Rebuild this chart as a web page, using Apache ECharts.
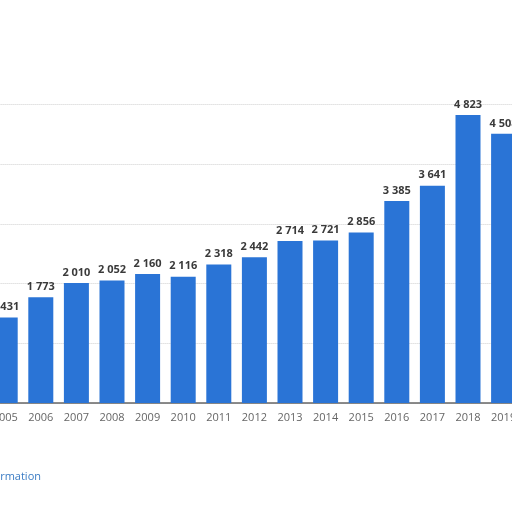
<!DOCTYPE html>
<html>
<head>
<meta charset="utf-8">
<script src="https://cdn.jsdelivr.net/npm/echarts@6/dist/echarts.min.js"></script>
<style>
  html, body { margin: 0; padding: 0; background: #fff; }
  #chart { width: 512px; height: 512px; }
</style>
</head>
<body>
<div id="chart"></div>
<script>
const years = ["2005", "2006", "2007", "2008", "2009", "2010", "2011", "2012",
  "2013", "2014", "2015", "2016", "2017", "2018", "2019"];
const values = [1431, 1773, 2010, 2052, 2160, 2116, 2318, 2442,
  2714, 2721, 2856, 3385, 3641, 4823, 4508];

const chart = echarts.init(document.getElementById("chart"));

// space as thousands separator, like the original
const fmt = (v) => String(v).replace(/\B(?=(\d{3})+(?!\d))/g, " ");

chart.setOption({
  animation: false,
  backgroundColor: "#fff",
  grid: {
    left: -12.6,
    width: 534,
    top: 104.5,
    bottom: 109,
    containLabel: false,
    outerBoundsMode: "none",
  },
  xAxis: {
    type: "category",
    data: years,
    axisTick: { show: false },
    axisLine: { lineStyle: { color: "#666", width: 1.5 } },
    axisLabel: {
      color: "#666",
      fontSize: 11,
      fontFamily: "Open Sans",
      margin: 9,
    },
  },
  yAxis: {
    type: "value",
    min: 0,
    max: 5000,
    interval: 1000,
    axisLabel: { show: false },
    axisLine: { show: false },
    axisTick: { show: false },
    splitLine: { lineStyle: { color: "#d0d0d0", type: "dotted" } },
  },
  series: [
    {
      type: "bar",
      data: values,
      barWidth: 25,
      itemStyle: { color: "#2a74d6" },
      label: {
        show: true,
        position: "top",
        distance: 5,
        color: "#3a3a3a",
        fontSize: 11,
        fontWeight: "bold",
        fontFamily: "Open Sans",
        formatter: (p) => fmt(p.value),
      },
    },
  ],
  graphic: [
    {
      type: "text",
      right: 471,
      top: 471,
      style: {
        text: "Additional Information",
        fill: "#3b7cc4",
        fontSize: 11,
        fontFamily: "Open Sans",
      },
    },
  ],
});
</script>
</body>
</html>
